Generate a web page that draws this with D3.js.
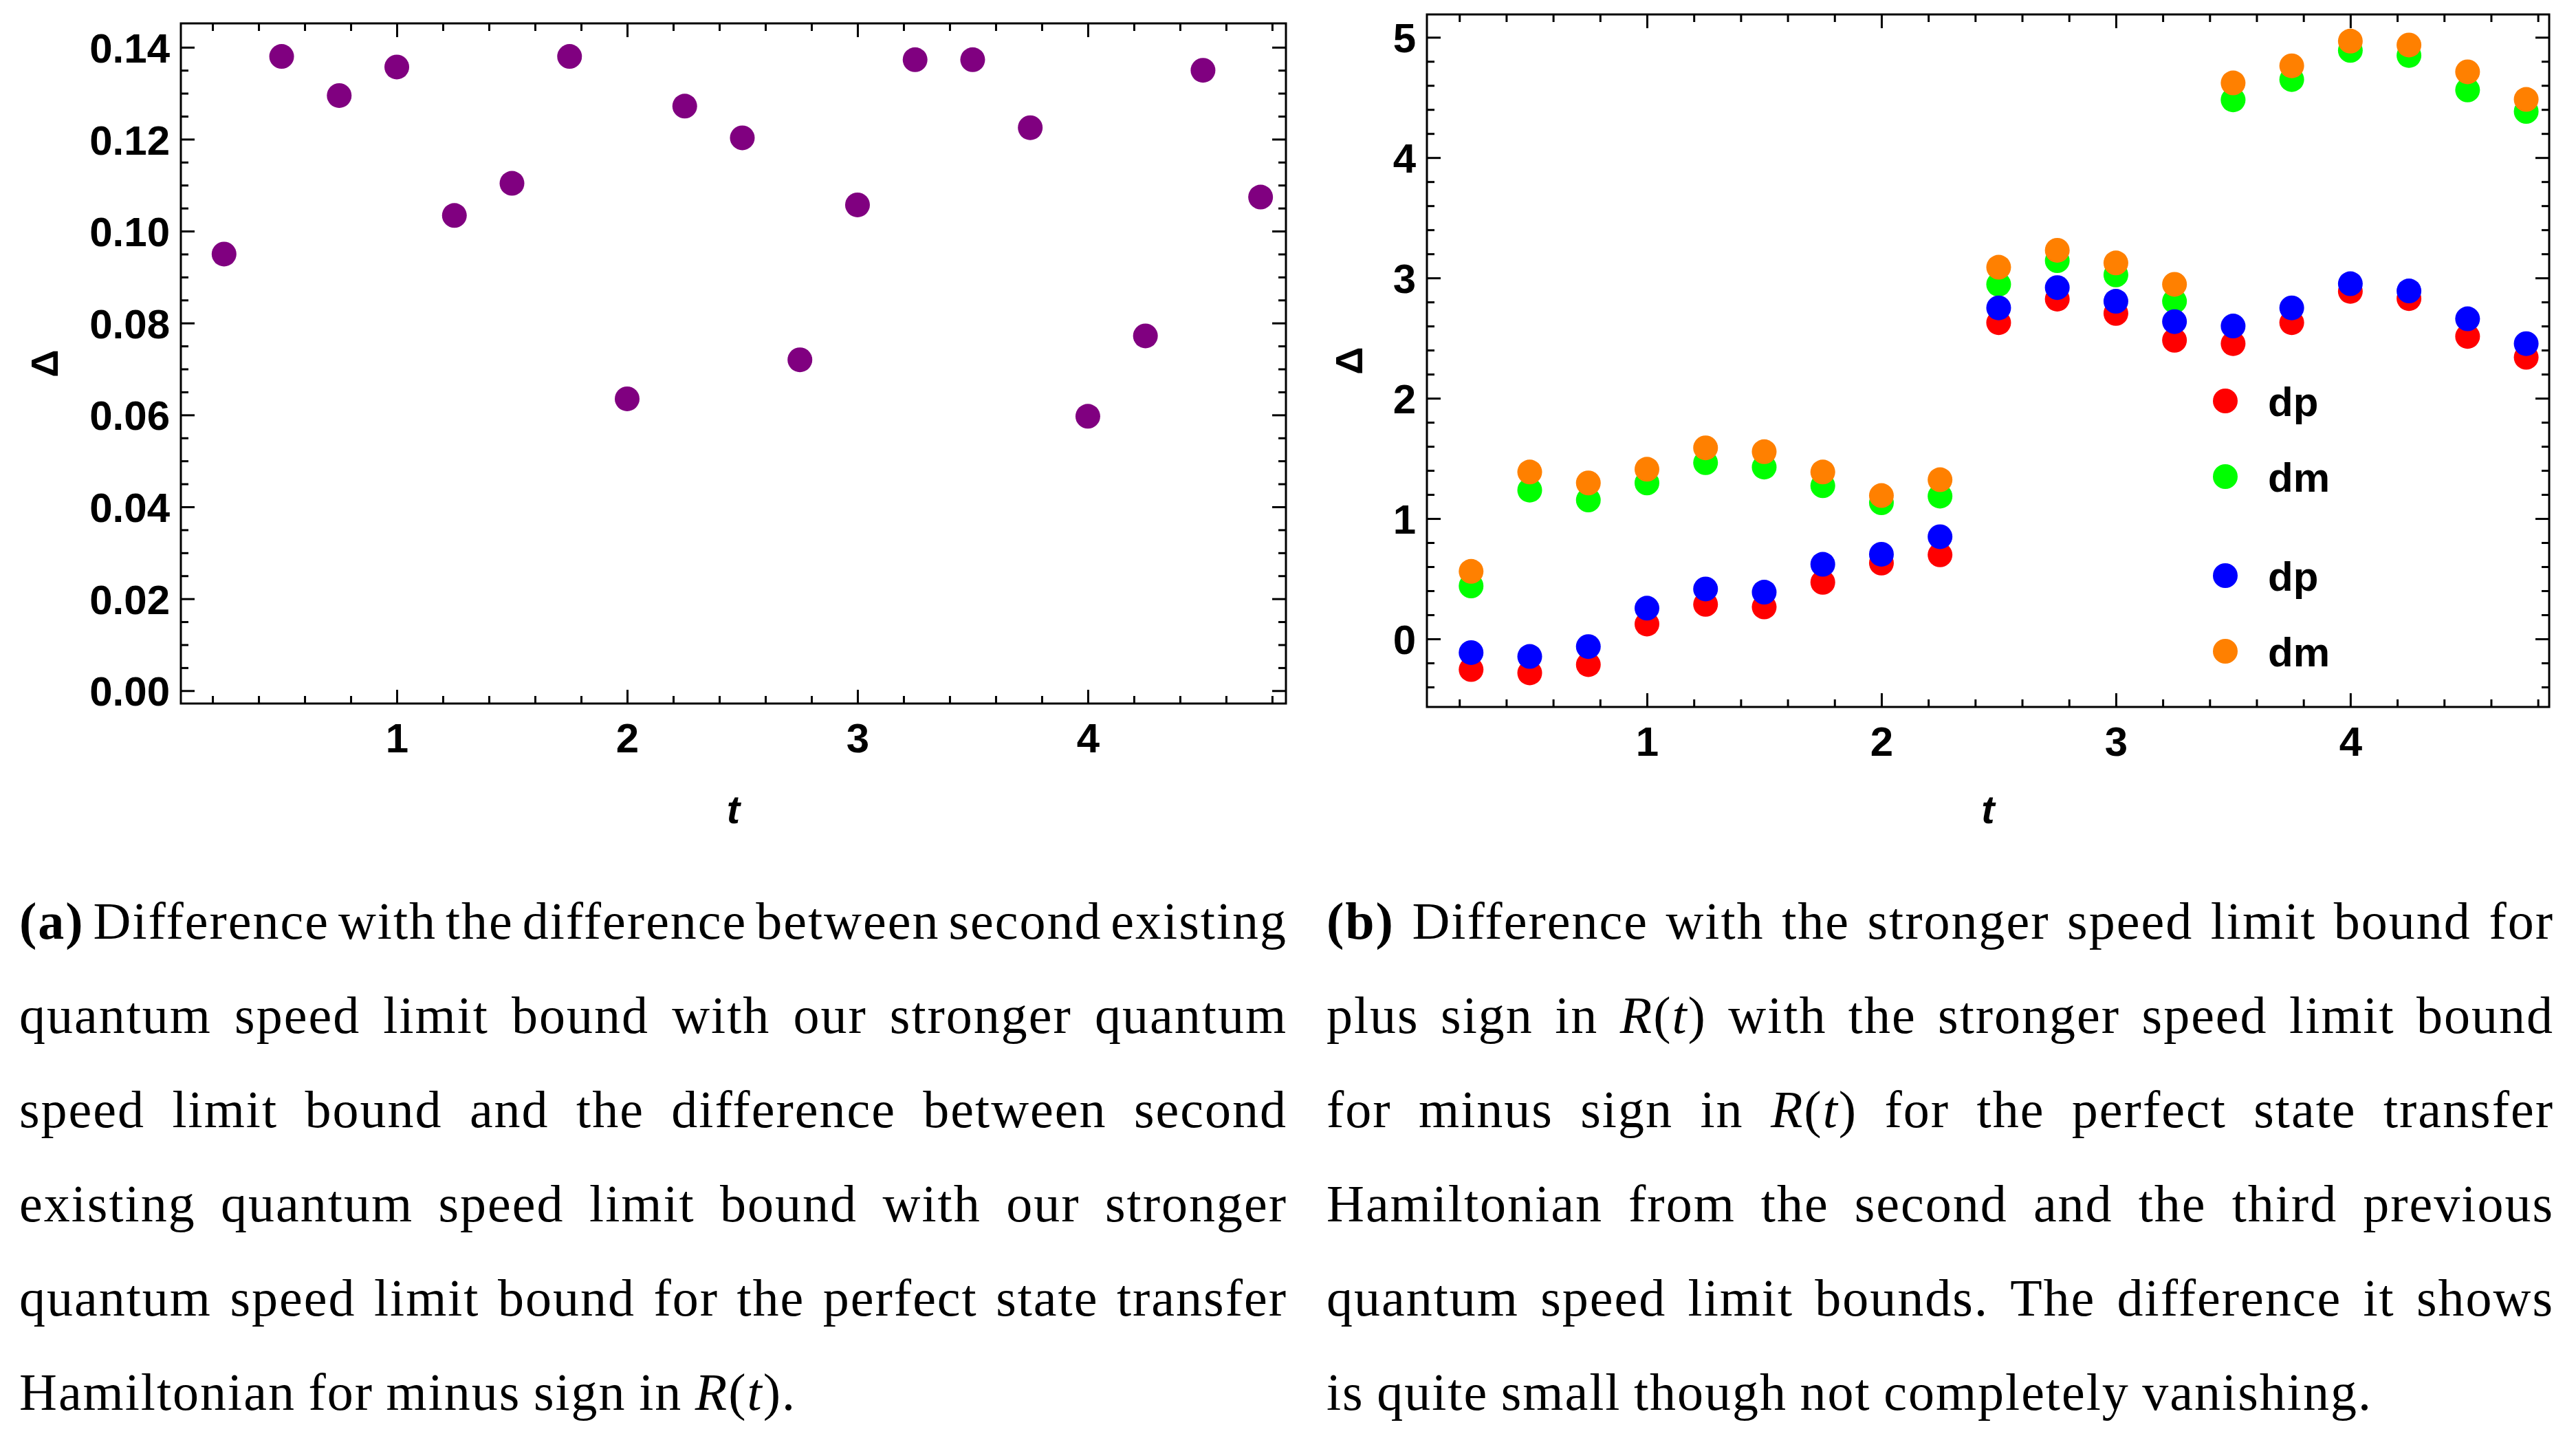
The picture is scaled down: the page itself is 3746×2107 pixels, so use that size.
<!DOCTYPE html>
<html><head><meta charset="utf-8">
<script src="https://cdn.jsdelivr.net/npm/d3@7"></script>
<style>html,body{margin:0;padding:0;background:#fff;} svg{display:block;}</style>
</head><body>
<svg id="c" width="3746" height="2107"></svg>
<script>
// ---------- data ----------
const tValues = [0.25, 0.5, 0.75, 1.0, 1.25, 1.5, 1.75, 2.0, 2.25, 2.5, 2.75, 3.0, 3.25, 3.5, 3.75, 4.0, 4.25, 4.5, 4.75];

const deltaA = [0.0950, 0.1380, 0.1295, 0.1357, 0.1034, 0.1104, 0.1380, 0.0635, 0.1272, 0.1203, 0.0720, 0.1057, 0.1373, 0.1373, 0.1225, 0.0597, 0.0772, 0.1350, 0.1074];

const dpRed = [-0.255, -0.283, -0.214, 0.123, 0.287, 0.265, 0.470, 0.630, 0.698, 2.628, 2.824, 2.705, 2.482, 2.454, 2.628, 2.888, 2.828, 2.514, 2.340];
const dmGreen = [0.440, 1.236, 1.154, 1.296, 1.464, 1.428, 1.273, 1.131, 1.186, 2.947, 3.143, 3.025, 2.806, 4.480, 4.649, 4.891, 4.849, 4.562, 4.384];
const dpBlue = [-0.114, -0.146, -0.064, 0.255, 0.415, 0.388, 0.620, 0.703, 0.849, 2.751, 2.920, 2.806, 2.637, 2.600, 2.751, 2.952, 2.892, 2.660, 2.454];
const dmOrange = [0.561, 1.387, 1.296, 1.410, 1.588, 1.556, 1.387, 1.191, 1.323, 3.089, 3.230, 3.125, 2.947, 4.621, 4.763, 4.968, 4.936, 4.713, 4.484];

const xTickLabels = [1, 2, 3, 4];
const yTicksA = [0, 0.02, 0.04, 0.06, 0.08, 0.10, 0.12, 0.14];
const yTicksB = [0, 1, 2, 3, 4, 5];
const legendLabels = ["dp", "dm", "dp", "dm"];

const captionA = [
  "(a) Difference with the difference between second existing",
  "quantum speed limit bound with our stronger quantum",
  "speed limit bound and the difference between second",
  "existing quantum speed limit bound with our stronger",
  "quantum speed limit bound for the perfect state transfer",
  "Hamiltonian for minus sign in R(t)."
];
const captionB = [
  "(b) Difference with the stronger speed limit bound for",
  "plus sign in R(t) with the stronger speed limit bound",
  "for minus sign in R(t) for the perfect state transfer",
  "Hamiltonian from the second and the third previous",
  "quantum speed limit bounds. The difference it shows",
  "is quite small though not completely vanishing."
];

// ---------- drawing ----------
const svg = d3.select("#c");
const SANS = "'Liberation Sans', Arial, sans-serif";
const SERIF = "'Liberation Serif', 'Times New Roman', serif";

function minorTicks(lo, hi, step, majorEvery) {
  const out = [];
  for (let i = Math.ceil(lo / step); i * step <= hi; i++) {
    if (i % majorEvery !== 0) out.push(+(i * step).toFixed(6));
  }
  return out;
}

function panel(cfg) {
  const g = svg.append("g");
  const x = d3.scaleLinear().domain(cfg.xDom).range(cfg.xRange);
  const y = d3.scaleLinear().domain(cfg.yDom).range(cfg.yRange);
  const [x0, x1] = cfg.xRange, [y0, y1] = cfg.yRange; // y0 bottom, y1 top

  const xMinor = minorTicks(cfg.xDom[0] + 0.01, cfg.xDom[1] - 0.01, 0.2, 5);
  const yMinor = minorTicks(cfg.yDom[0] + cfg.yMinorStep * 0.1, cfg.yDom[1] - cfg.yMinorStep * 0.1, cfg.yMinorStep, cfg.yMajorEvery);

  const MAJ = 20, MIN = 11;
  const axes = [
    [d3.axisBottom(x).tickValues(xTickLabels).tickSize(-MAJ).tickPadding(28).tickFormat(d3.format("d")), `translate(0,${y0})`],
    [d3.axisBottom(x).tickValues(xMinor).tickSize(-MIN).tickFormat(""), `translate(0,${y0})`],
    [d3.axisTop(x).tickValues(xTickLabels).tickSize(-MAJ).tickFormat(""), `translate(0,${y1})`],
    [d3.axisTop(x).tickValues(xMinor).tickSize(-MIN).tickFormat(""), `translate(0,${y1})`],
    [d3.axisLeft(y).tickValues(cfg.yTicks).tickSize(-MAJ).tickPadding(16).tickFormat(cfg.yFmt), `translate(${x0},0)`],
    [d3.axisLeft(y).tickValues(yMinor).tickSize(-MIN).tickFormat(""), `translate(${x0},0)`],
    [d3.axisRight(y).tickValues(cfg.yTicks).tickSize(-MAJ).tickFormat(""), `translate(${x1},0)`],
    [d3.axisRight(y).tickValues(yMinor).tickSize(-MIN).tickFormat(""), `translate(${x1},0)`]
  ];
  axes.forEach(([ax, tr]) => {
    const a = g.append("g").attr("transform", tr).call(ax);
    a.select(".domain").remove();
    a.selectAll(".tick line").attr("stroke", "#000").attr("stroke-width", 3);
    a.selectAll(".tick text")
      .attr("fill", "#000")
      .attr("font-family", SANS)
      .attr("font-weight", "bold")
      .attr("font-size", 60);
  });
  g.selectAll(".tick text").filter(function(){ return this.getAttribute("x") && +this.getAttribute("x") < 0; })
    .attr("dy", "0.36em");

  // frame
  g.append("rect")
    .attr("x", x0).attr("y", y1)
    .attr("width", x1 - x0).attr("height", y0 - y1)
    .attr("fill", "none").attr("stroke", "#000").attr("stroke-width", 3);

  // axis titles
  g.append("text")
    .attr("x", (x0 + x1) / 2).attr("y", 1197)
    .attr("text-anchor", "middle")
    .attr("font-family", SANS).attr("font-weight", "bold").attr("font-style", "italic")
    .attr("font-size", 58).text("t");
  g.append("text")
    .attr("transform", `translate(${cfg.deltaX},${(y0 + y1) / 2}) rotate(-90)`)
    .attr("text-anchor", "middle")
    .attr("font-family", SANS).attr("font-weight", "bold")
    .attr("font-size", 56).text("\u0394");

  // series
  cfg.series.forEach(s => {
    g.append("g").selectAll("circle")
      .data(tValues.map((t, i) => ({ t, v: s.values[i] })))
      .join("circle")
      .attr("cx", d => x(d.t))
      .attr("cy", d => y(d.v))
      .attr("r", 18)
      .attr("fill", s.color);
  });
  return { g, x, y };
}

panel({
  xDom: [0.0625, 4.86], xRange: [263, 1870],
  yDom: [-0.0028, 0.1452], yRange: [1023, 34],
  yTicks: yTicksA, yMinorStep: 0.005, yMajorEvery: 4,
  yFmt: d3.format(".2f"), deltaX: 84,
  series: [{ values: deltaA, color: "#800080" }]
});

const pB = panel({
  xDom: [0.0615, 4.848], xRange: [2075, 3707],
  yDom: [-0.566, 5.19], yRange: [1028, 21],
  yTicks: yTicksB, yMinorStep: 0.2, yMajorEvery: 5,
  yFmt: d3.format("d"), deltaX: 1981,
  series: [
    { values: dpRed, color: "#FF0000" },
    { values: dmGreen, color: "#00FF00" },
    { values: dpBlue, color: "#0000FF" },
    { values: dmOrange, color: "#FF8000" }
  ]
});

// legend
const legendColors = ["#FF0000", "#00FF00", "#0000FF", "#FF8000"];
const legendY = [583, 693, 837, 947];
const lg = pB.g.append("g");
legendLabels.forEach((lab, i) => {
  lg.append("circle").attr("cx", 3236).attr("cy", legendY[i]).attr("r", 18).attr("fill", legendColors[i]);
  lg.append("text").attr("x", 3298).attr("y", legendY[i] + 22)
    .attr("font-family", SANS).attr("font-weight", "bold").attr("font-size", 60)
    .attr("fill", "#000").text(lab);
});

// ---------- captions (justified) ----------
const FS = 76, LS = 2;
function buildWord(parent, word, isFirst) {
  const t = parent.append("text").attr("font-family", SERIF).attr("font-size", FS)
    .attr("letter-spacing", LS).attr("fill", "#000");
  if (isFirst && /^\([ab]\)$/.test(word)) {
    t.append("tspan").attr("font-weight", "bold").text(word);
  } else if (word.startsWith("R(t)")) {
    t.append("tspan").attr("font-style", "italic").text("R");
    t.append("tspan").text("(");
    t.append("tspan").attr("font-style", "italic").text("t");
    t.append("tspan").text(")" + word.slice(4));
  } else {
    t.text(word);
  }
  return t;
}
function caption(lines, left, right, top) {
  const g = svg.append("g");
  lines.forEach((line, li) => {
    const words = line.split(" ");
    const els = words.map((w, i) => buildWord(g, w, li === 0 && i === 0));
    const widths = els.map(e => e.node().getComputedTextLength() - LS);
    const total = d3.sum(widths);
    const last = li === lines.length - 1;
    const gap = last ? FS * 0.27 : (right - left - total) / (words.length - 1);
    let cx = left;
    const by = top + li * 137;
    els.forEach((e, i) => {
      e.attr("x", cx).attr("y", by);
      cx += widths[i] + gap;
    });
  });
}
caption(captionA, 28, 1870, 1365);
caption(captionB, 1929, 3712, 1365);
</script>
</body></html>
